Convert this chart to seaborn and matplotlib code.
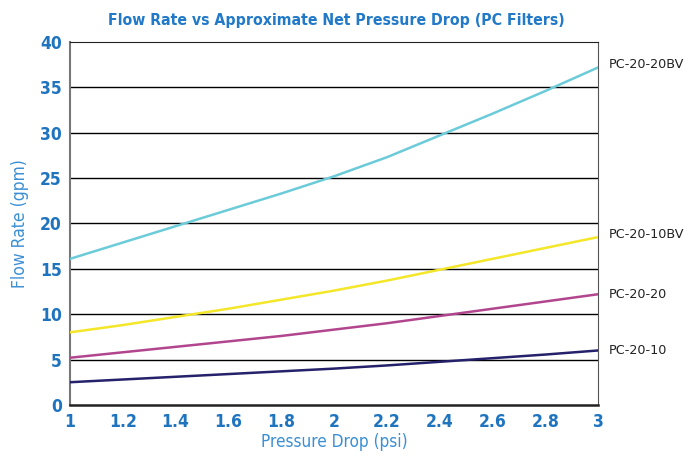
import pandas as pd
import matplotlib.pyplot as plt
import seaborn as sns

# Data
pressure = [1.0, 1.2, 1.4, 1.6, 1.8, 2.0, 2.2, 2.4, 2.6, 2.8, 3.0]
pc_20_20bv = [16.1, 17.9, 19.7, 21.5, 23.3, 25.2, 27.3, 29.7, 32.1, 34.6, 37.2]
pc_20_10bv = [8.0, 8.8, 9.7, 10.6, 11.6, 12.6, 13.7, 14.9, 16.1, 17.3, 18.5]
pc_20_20 = [5.2, 5.8, 6.4, 7.0, 7.6, 8.3, 9.0, 9.8, 10.6, 11.4, 12.2]
pc_20_10 = [2.5, 2.8, 3.1, 3.4, 3.7, 4.0, 4.35, 4.75, 5.15, 5.55, 6.0]

series = {
    'PC-20-20BV': pc_20_20bv,
    'PC-20-10BV': pc_20_10bv,
    'PC-20-20': pc_20_20,
    'PC-20-10': pc_20_10,
}
colors = {
    'PC-20-20BV': '#6ccbd9',
    'PC-20-10BV': '#f4e628',
    'PC-20-20': '#b2468e',
    'PC-20-10': '#25216b',
}
label_offset = {'PC-20-20BV': 0.3, 'PC-20-10BV': 0.3, 'PC-20-20': 0.0, 'PC-20-10': 0.0}

x_ticks = [1, 1.2, 1.4, 1.6, 1.8, 2, 2.2, 2.4, 2.6, 2.8, 3]
x_tick_labels = ['1', '1.2', '1.4', '1.6', '1.8', '2', '2.2', '2.4', '2.6', '2.8', '3']
y_ticks = [0, 5, 10, 15, 20, 25, 30, 35, 40]

rows = []
for name, vals in series.items():
    for p, v in zip(pressure, vals):
        rows.append({'Pressure': p, 'Flow': v, 'Filter': name})
df = pd.DataFrame(rows)

sns.set_style('white')
plt.rcParams['font.family'] = ['DejaVu Sans']

fig = plt.figure(figsize=(6.93, 4.57), dpi=100)
ax = fig.add_axes([0.101, 0.114, 0.762, 0.794])

# horizontal grid lines
for y in y_ticks[1:-1]:
    ax.axhline(y, color='black', lw=1.0, zorder=1)

sns.lineplot(data=df, x='Pressure', y='Flow', hue='Filter', palette=colors,
             hue_order=list(series.keys()), lw=1.8, legend=False, ax=ax, zorder=3)

for name, vals in series.items():
    ax.text(3.04, vals[-1] + label_offset[name], name, fontsize=9.2,
            color='#222222', va='center', ha='left')

ax.set_xlim(1, 3)
ax.set_ylim(0, 40)
ax.set_xticks(x_ticks)
ax.set_xticklabels(x_tick_labels)
ax.set_yticks(y_ticks)
ax.tick_params(axis='both', length=0, labelsize=12.5, labelcolor='#1f74bf', pad=6)
for lbl in ax.get_xticklabels() + ax.get_yticklabels():
    lbl.set_fontweight('bold')
    lbl.set_fontstretch('condensed')

for side in ['top', 'right', 'left', 'bottom']:
    ax.spines[side].set_visible(True)
    ax.spines[side].set_color('#222222')
ax.spines['left'].set_color('#777777')
ax.spines['right'].set_color('#555555')
ax.spines['bottom'].set_linewidth(1.8)
ax.spines['left'].set_linewidth(1.5)

ax.set_xlabel('Pressure Drop (psi)', fontsize=12.3, color='#3b8fd4', labelpad=1,
              fontstretch='condensed')
ax.set_ylabel('Flow Rate (gpm)', fontsize=12.5, color='#3b8fd4', labelpad=8,
              fontstretch='condensed')
ax.set_title('Flow Rate vs Approximate Net Pressure Drop (PC Filters)',
             fontsize=11.3, fontweight='bold', color='#2179c8', pad=12, x=0.505,
             fontstretch='condensed')

fig.savefig('out.png', dpi=100)
